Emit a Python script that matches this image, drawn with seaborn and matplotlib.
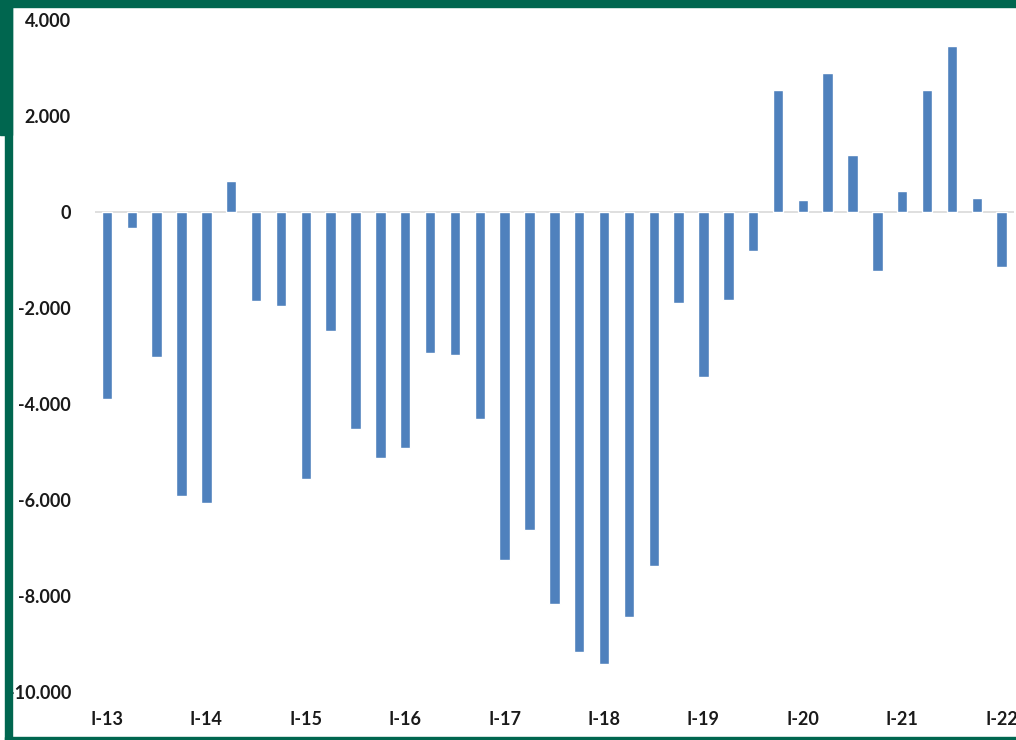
import matplotlib
matplotlib.use("Agg")
import matplotlib.pyplot as plt
import matplotlib.patches as mpatches
import seaborn as sns
import pandas as pd

# quarterly values (I-13 .. I-22)
quarters = [f"{q}-{y}" for y in range(13, 23) for q in ["I", "II", "III", "IV"]][:37]
values = [-3900, -330, -3030, -5920, -6060, 650, -1850, -1950,
          -5560, -2480, -4520, -5120, -4920, -2940, -2980, -4310,
          -7250, -6620, -8160, -9170, -9420, -8440, -7370, -1900,
          -3440, -1830, -810, 2540, 250, 2900, 1190, -1230,
          440, 2540, 3460, 290, -1150]
year_labels = ["I-13", "I-14", "I-15", "I-16", "I-17", "I-18", "I-19", "I-20", "I-21", "I-22"]
y_ticks = [4000, 2000, 0, -2000, -4000, -6000, -8000, -10000]

df = pd.DataFrame({"trimestre": quarters, "valor": values})

sns.set_style("white")
plt.rcParams['font.family'] = ['Lato', 'DejaVu Sans']

fig = plt.figure(figsize=(10.16, 7.40), dpi=100)
ax = fig.add_axes([0.0931, 0.0649, 0.905, 0.9081])

sns.barplot(data=df, x="trimestre", y="valor", color="#4F81BD", saturation=1,
            width=0.42, ax=ax)
ax.axhline(0, color="#D9D9D9", lw=1.2, zorder=0)

ax.set_xlim(-0.5, 36.5)
ax.set_ylim(-10000, 4000)
ax.set_xticks(range(0, 37, 4))
ax.set_xticklabels(year_labels, fontsize=13, fontweight="bold", color="#1a1a1a")
ax.set_yticks(y_ticks)
ax.set_yticklabels([f"{v:,}".replace(",", ".") for v in y_ticks],
                   fontsize=13, fontweight="bold", color="#1a1a1a")
ax.tick_params(axis="y", length=0, pad=17)
ax.tick_params(axis="x", length=0, pad=14)
ax.set_xlabel("")
ax.set_ylabel("")
sns.despine(ax=ax, left=True, bottom=True)

# green frame of the screenshot
green = "#00664F"
W, H = 1016, 740
def rect(x0, y0, w, h):
    fig.patches.append(mpatches.Rectangle((x0 / W, 1 - (y0 + h) / H), w / W, h / H,
                                          transform=fig.transFigure, color=green, zorder=10))
rect(0, 0, W, 7)
rect(0, 0, 12, 135)
rect(5, 0, 7, H)
rect(5, 737, W, 3)

fig.savefig("out.png", dpi=100)
